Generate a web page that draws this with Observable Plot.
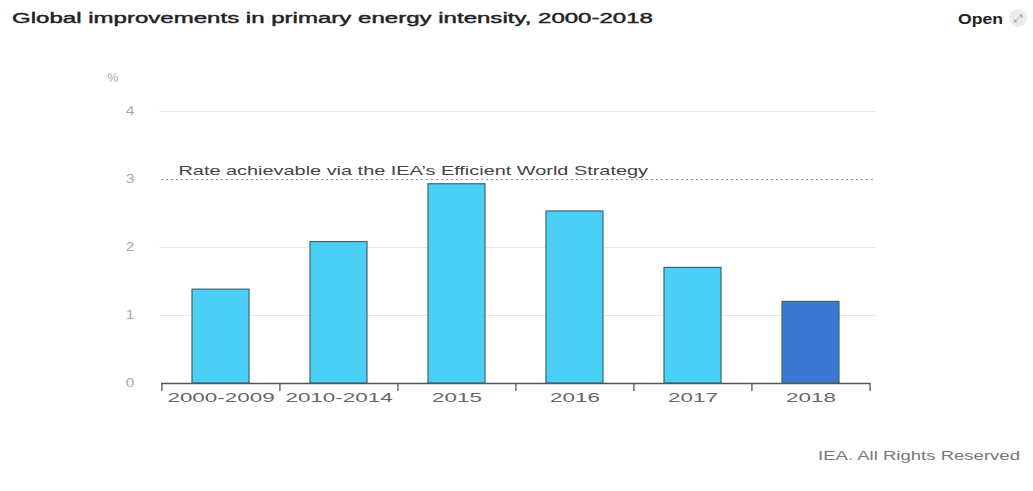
<!DOCTYPE html>
<html>
<head>
<meta charset="utf-8">
<script src="https://cdn.jsdelivr.net/npm/d3@7"></script>
<script src="https://cdn.jsdelivr.net/npm/@observablehq/plot@0.6"></script>
<style>
  html, body { margin: 0; padding: 0; background: #fff; }
  body { width: 1033px; height: 491px; position: relative; overflow: hidden; font-family: "Liberation Sans", "DejaVu Sans", sans-serif; }
  #title { position: absolute; left: 12px; top: 10px; font-size: 14px; color: #222; -webkit-text-stroke: 0.4px #222; white-space: nowrap; transform-origin: 0 50%; }
  #open { position: absolute; left: 958px; top: 9px; display: flex; align-items: center; gap: 7px; white-space: nowrap; }
  #open .lbl { font-size: 15px; font-weight: 700; color: #222; display: inline-block; transform-origin: 0 50%; }
  #open .ic { display: inline-block; width: 18px; height: 18px; border-radius: 50%; background: #ececec; color: #999; font-size: 11px; line-height: 18px; text-align: center; margin-left: 6px; }
  #chart { position: absolute; left: 0; top: 70px; }
  #footer { position: absolute; left: 818px; top: 449px; font-size: 12.5px; color: #777; white-space: nowrap; transform-origin: 0 50%; }
</style>
</head>
<body>
<div id="title">Global improvements in primary energy intensity, 2000-2018</div>
<div id="open"><span class="lbl" id="openlbl">Open</span><span class="ic">⤢</span></div>
<div id="chart"></div>
<div id="footer">IEA. All Rights Reserved</div>
<script>
const categories = ["2000-2009", "2010-2014", "2015", "2016", "2017", "2018"];
const values = [1.38, 2.08, 2.93, 2.53, 1.70, 1.20];
const highlight = [false, false, false, false, false, true];
const yTicks = [0, 1, 2, 3, 4];
const gridTicks = [1, 2, 4];
const targetRate = [3];
const targetLabel = "Rate achievable via the IEA\u2019s Efficient World Strategy";

const data = categories.map((c, i) => ({category: c, value: values[i], hi: highlight[i]}));

// the reference's lettering is horizontally stretched; widen HTML texts to its widths
function fitWidth(el, target) {
  const w = el.getBoundingClientRect().width;
  el.style.transform = `scaleX(${target / w})`;
}
fitWidth(document.getElementById("title"), 641);
fitWidth(document.getElementById("footer"), 202);
fitWidth(document.getElementById("openlbl"), 45);

const W = 1033, H = 370;
const mL = 161, mR = 163, mT = 41, mB = 57;
const padIn = 0.52, padOut = 0.26;
const step = (W - mL - mR) / (categories.length - padIn + 2 * padOut);

const chart = Plot.plot({
  width: W,
  height: H,
  marginLeft: mL,
  marginRight: mR,
  marginTop: mT,
  marginBottom: mB,
  style: {fontFamily: "'Liberation Sans', 'DejaVu Sans', sans-serif", background: "#fff"},
  x: {domain: categories, paddingInner: padIn, paddingOuter: padOut},
  y: {domain: [0, 4]},
  marks: [
    Plot.gridY(gridTicks, {stroke: "#e6e6e6", strokeOpacity: 1, insetLeft: -2, insetRight: -5}),
    Plot.ruleY(targetRate, {stroke: "#999", strokeDasharray: "2,3", insetRight: -5}),
    Plot.text(targetRate, {y: d => d, text: () => targetLabel, frameAnchor: "left", textAnchor: "start", dx: 17, dy: -9, fontSize: 13, fill: "#444", className: "ann"}),
    Plot.barY(data, {x: "category", y: "value", fill: d => d.hi ? "#3a78d4" : "#4acff7", stroke: "#3d6672", strokeWidth: 1.2}),
    Plot.ruleY([0], {stroke: "#555", strokeWidth: 1.3}),
    Plot.ruleX(categories, {x: d => d, y1: 0, y2: 0, dx: -step / 2, insetBottom: -8, stroke: "#555", strokeWidth: 1.3}),
    Plot.ruleX(categories.slice(-1), {x: d => d, y1: 0, y2: 0, dx: step / 2, insetBottom: -8, stroke: "#555", strokeWidth: 1.3}),
    Plot.axisX({tickSize: 0, tickPadding: 9, fontSize: 13.5, color: "#666", label: null, className: "xax"}),
    Plot.axisY({ticks: yTicks, tickFormat: "d", tickSize: 0, tickPadding: 27, fontSize: 12, color: "#aaa", label: "%", labelAnchor: "top", labelArrow: "none", labelOffset: 54, className: "yax"})
  ]
});
document.getElementById("chart").appendChild(chart);

function stretch(sel, factor) {
  chart.querySelectorAll(sel).forEach(t => {
    const L = t.getComputedTextLength();
    t.setAttribute("textLength", L * factor);
    t.setAttribute("lengthAdjust", "spacingAndGlyphs");
  });
}
stretch(".xax text", 1.66);
stretch(".ann text", 1.53);
stretch(".yax text", 1.3);
</script>
</body>
</html>
